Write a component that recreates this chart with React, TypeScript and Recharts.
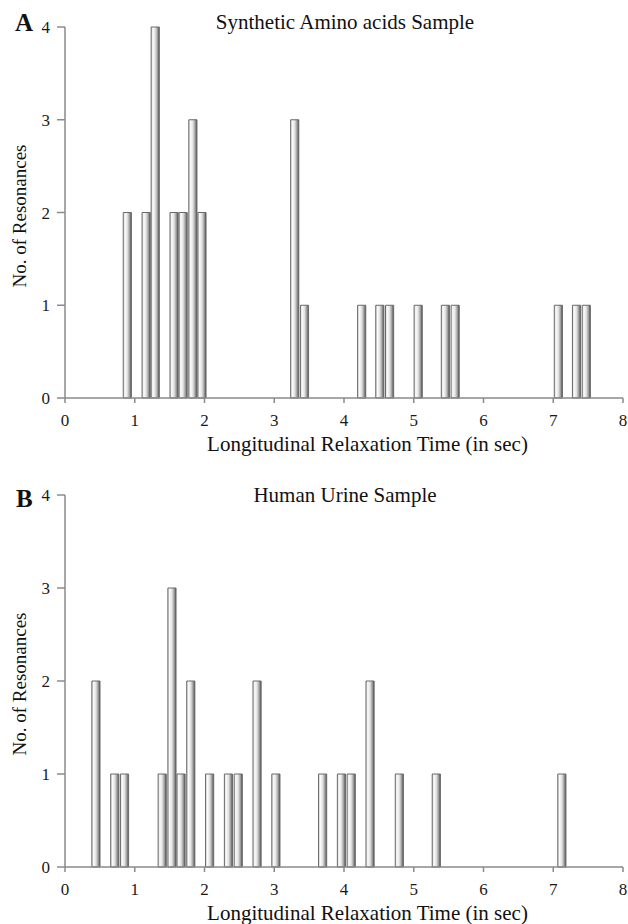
import React from 'react';
import { BarChart, Bar, XAxis, YAxis } from 'recharts';

// Panel A — synthetic amino acids (bin centre in sec, count)
const timesA = [0.9, 1.17, 1.3, 1.57, 1.7, 1.84, 1.97, 3.3, 3.44, 4.26, 4.52, 4.66, 5.07, 5.46, 5.6, 7.08, 7.34, 7.48];
const countsA = [2, 2, 4, 2, 2, 3, 2, 3, 1, 1, 1, 1, 1, 1, 1, 1, 1, 1];

// Panel B — human urine
const timesB = [0.45, 0.72, 0.86, 1.4, 1.54, 1.67, 1.81, 2.08, 2.35, 2.49, 2.76, 3.03, 3.7, 3.97, 4.11, 4.38, 4.8, 5.33, 7.13];
const countsB = [2, 1, 1, 1, 3, 1, 2, 1, 1, 1, 2, 1, 1, 1, 1, 2, 1, 1, 1];

const xTicks = [0, 1, 2, 3, 4, 5, 6, 7, 8];
const yTicks = [0, 1, 2, 3, 4];

const titleA = 'Synthetic Amino acids Sample';
const titleB = 'Human Urine Sample';
const xTitle = 'Longitudinal Relaxation Time (in sec)';
const yTitle = 'No. of Resonances';

const SERIF = "'Liberation Serif', 'Times New Roman', serif";
const AXIS = '#8a8a8a';

const toRows = (times: number[], counts: number[]) =>
  times.map((t, i) => ({ t, n: counts[i] }));

const tickStyle = { fontFamily: SERIF, fontSize: 17, fill: '#1a1a1a' };

interface PanelProps {
  id: string;
  times: number[];
  counts: number[];
  top: number;
  height: number;
  xAxisHeight: number;
}

const Panel: React.FC<PanelProps> = ({ id, times, counts, top, height, xAxisHeight }) => (
  <div style={{ position: 'absolute', left: 0, top, fontFamily: SERIF }}>
    <BarChart
      width={628}
      height={height}
      data={toRows(times, counts)}
      margin={{ top: 27, right: 5, left: 35, bottom: 0 }}
      barCategoryGap={0}
      barGap={0}
      style={{ fontFamily: SERIF }}
    >
      <defs>
        <linearGradient id={`bar-${id}`} x1="0" y1="0" x2="1" y2="0">
          <stop offset="0%" stopColor="#cfcfcf" />
          <stop offset="22%" stopColor="#fbfbfb" />
          <stop offset="50%" stopColor="#e2e2e2" />
          <stop offset="78%" stopColor="#9c9c9c" />
          <stop offset="100%" stopColor="#4a4a4a" />
        </linearGradient>
      </defs>
      <XAxis
        dataKey="t"
        type="number"
        domain={[0, 8]}
        ticks={xTicks}
        interval={0}
        height={xAxisHeight}
        tick={tickStyle}
        tickSize={5}
        tickMargin={11}
        axisLine={{ stroke: AXIS, strokeWidth: 1.5 }}
        tickLine={{ stroke: AXIS, strokeWidth: 1.5 }}
      />
      <YAxis
        type="number"
        domain={[0, 4]}
        ticks={yTicks}
        interval={0}
        width={30}
        tick={tickStyle}
        tickSize={8}
        tickMargin={7}
        axisLine={{ stroke: AXIS, strokeWidth: 1.5 }}
        tickLine={{ stroke: AXIS, strokeWidth: 1.5 }}
      />
      <Bar
        dataKey="n"
        barSize={9.6}
        fill={`url(#bar-${id})`}
        stroke="#6a6a6a"
        strokeWidth={1}
        isAnimationActive={false}
      />
    </BarChart>
  </div>
);

const Texts: React.FC = () => (
  <svg
    width={628}
    height={924}
    style={{ position: 'absolute', left: 0, top: 0, pointerEvents: 'none' }}
    fontFamily={SERIF}
    fill="#111"
  >
    <text x={15} y={31} fontSize={25} fontWeight="bold">A</text>
    <text x={345} y={29} fontSize={21} textAnchor="middle">{titleA}</text>
    <text x={367.5} y={451} fontSize={21} textAnchor="middle">{xTitle}</text>
    <text x={26} y={216} fontSize={19} textAnchor="middle" transform="rotate(-90 26 216)">{yTitle}</text>

    <text x={16} y={507} fontSize={25} fontWeight="bold">B</text>
    <text x={345} y={502} fontSize={21} textAnchor="middle">{titleB}</text>
    <text x={367.5} y={920} fontSize={21} textAnchor="middle">{xTitle}</text>
    <text x={26} y={684} fontSize={19} textAnchor="middle" transform="rotate(-90 26 684)">{yTitle}</text>
  </svg>
);

export default function App() {
  return (
    <div
      style={{
        position: 'absolute',
        left: 0,
        top: 0,
        width: 628,
        height: 924,
        background: '#ffffff',
        overflow: 'hidden',
        fontFamily: SERIF,
      }}
    >
      <Panel id="a" times={timesA} counts={countsA} top={0} height={462} xAxisHeight={64} />
      <Panel id="b" times={timesB} counts={countsB} top={468} height={456} xAxisHeight={57} />
      <Texts />
    </div>
  );
}
